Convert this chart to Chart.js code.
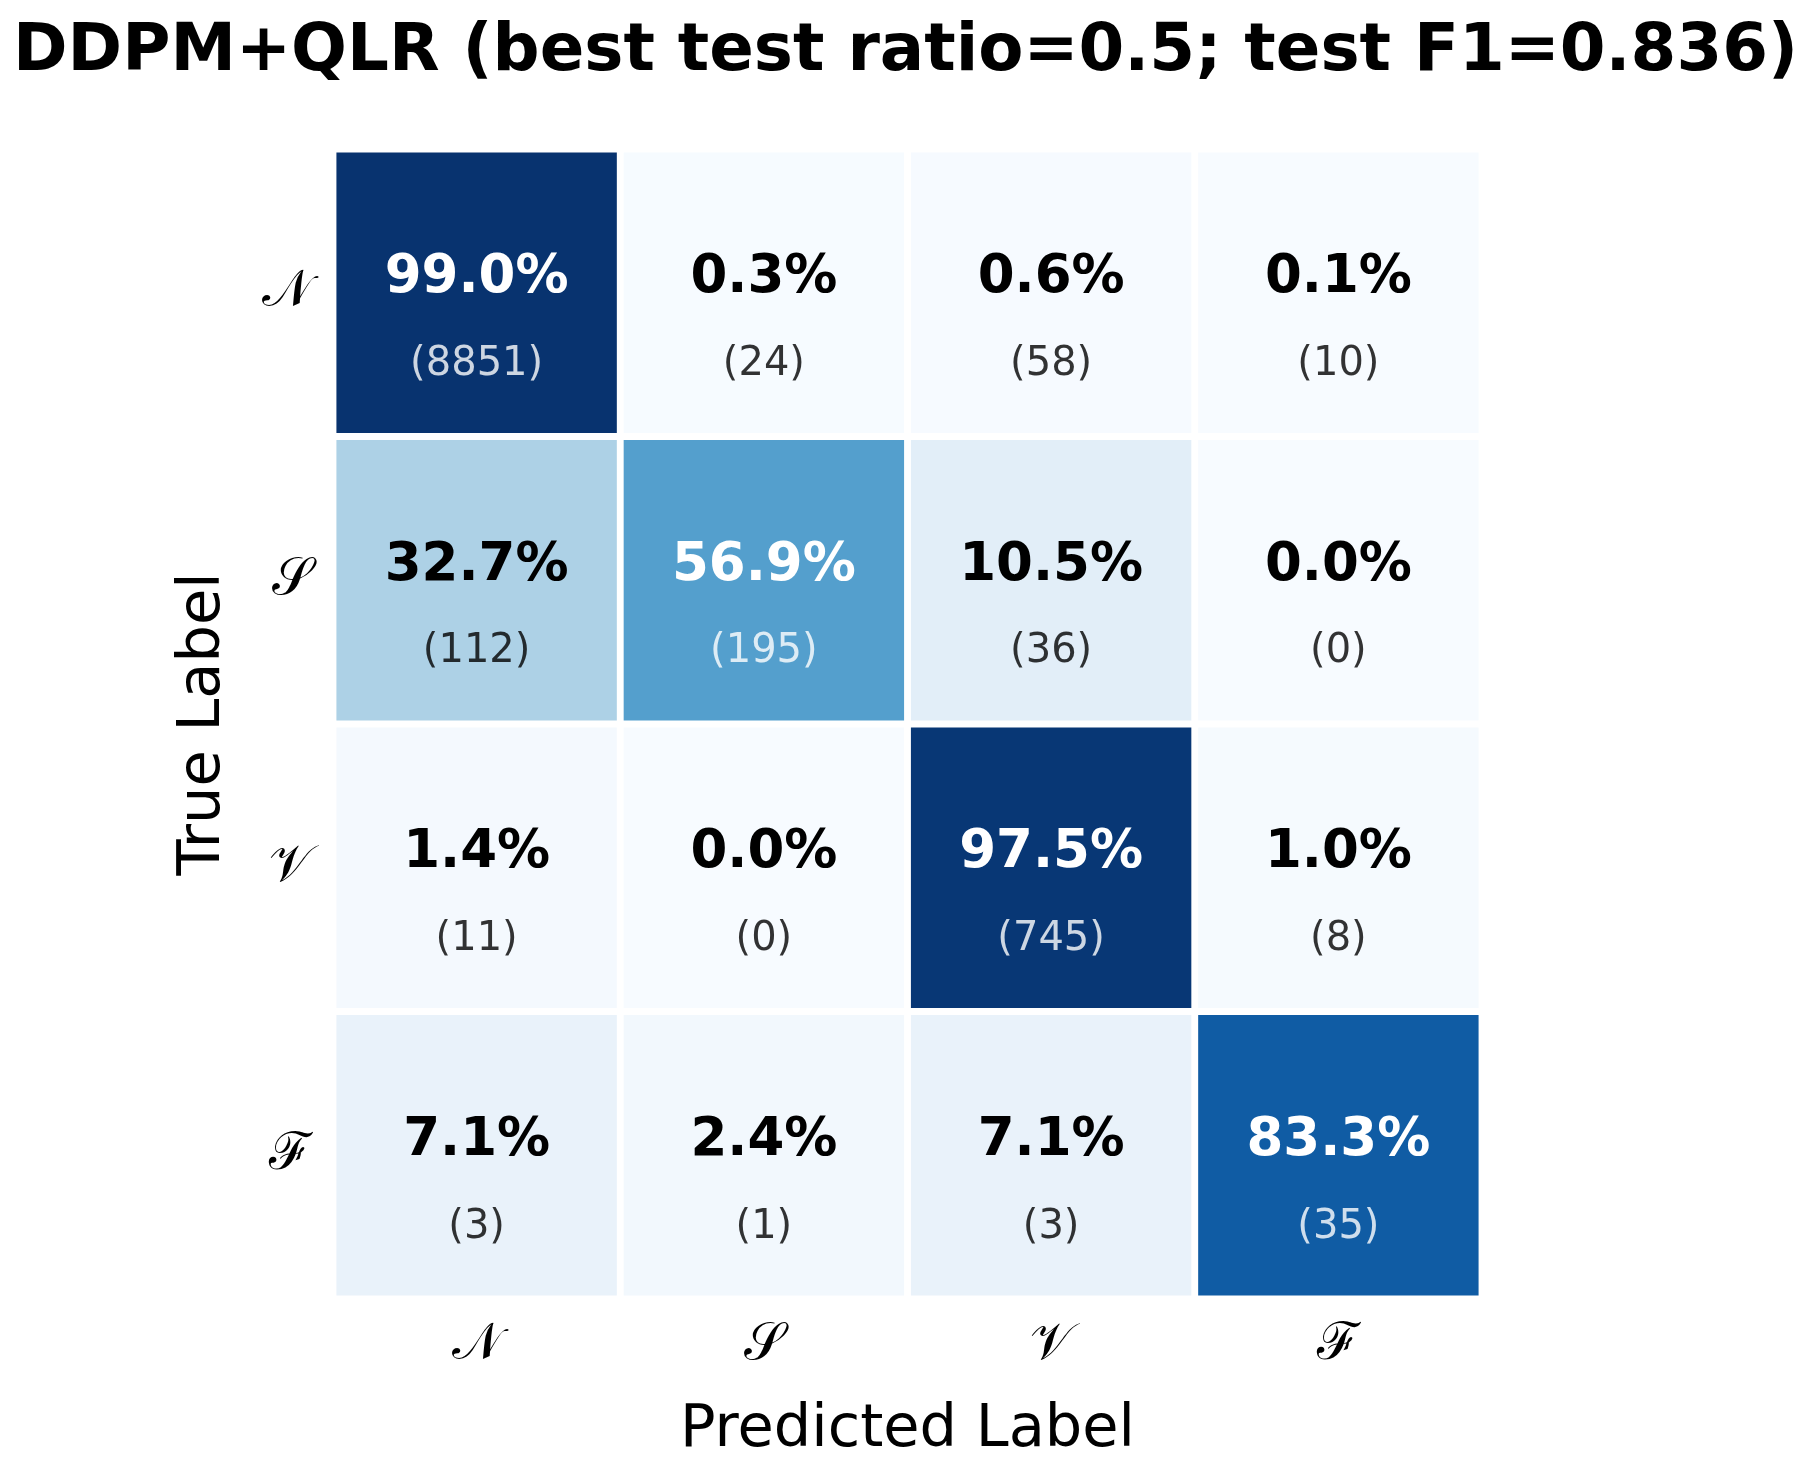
<!DOCTYPE html>
<html>
<head>
<meta charset="utf-8">
<script src="https://cdn.jsdelivr.net/npm/chart.js@4.4.1/dist/chart.umd.min.js"></script>
<style>
  html, body { margin: 0; padding: 0; background: #ffffff; }
  #wrap { width: 1811px; height: 1466px; }
</style>
</head>
<body>
<div id="wrap"><canvas id="c" width="1811" height="1466"></canvas></div>
<script>
// ---- data ----
const titleText = 'DDPM+QLR (best test ratio=0.5; test F1=0.836)';
const predictedLabels = ['\u{1D4A9}', '\u{1D4AE}', '\u{1D4B1}', '\u2131'];
const trueLabels = ['\u{1D4A9}', '\u{1D4AE}', '\u{1D4B1}', '\u2131'];
// rows = true label, columns = predicted label
const pctRowN = [99.0, 0.3, 0.6, 0.1];
const pctRowS = [32.7, 56.9, 10.5, 0.0];
const pctRowV = [1.4, 0.0, 97.5, 1.0];
const pctRowF = [7.1, 2.4, 7.1, 83.3];
const cntRowN = [8851, 24, 58, 10];
const cntRowS = [112, 195, 36, 0];
const cntRowV = [11, 0, 745, 8];
const cntRowF = [3, 1, 3, 35];
const pctRows = [pctRowN, pctRowS, pctRowV, pctRowF];
const cntRows = [cntRowN, cntRowS, cntRowV, cntRowF];

// ---- matplotlib "Blues" colormap ----
const bluesAnchors = ['#f7fbff','#deebf7','#c6dbef','#9ecae1','#6baed6','#4292c6','#2171b5','#08519c','#08306b'];
function hexToRgb(h){ return [parseInt(h.slice(1,3),16), parseInt(h.slice(3,5),16), parseInt(h.slice(5,7),16)]; }
function blues(t){
  t = Math.max(0, Math.min(1, t));
  const n = bluesAnchors.length - 1;
  const p = t * n; let i = Math.floor(p); if (i >= n) i = n - 1;
  const f = p - i;
  const a = hexToRgb(bluesAnchors[i]), b = hexToRgb(bluesAnchors[i+1]);
  const c = a.map((v,k) => Math.round(v + (b[k]-v)*f));
  return 'rgb(' + c.join(',') + ')';
}
const vmin = 0, vmax = 100;

const datasets = pctRows.map((row, r) => ({
  label: trueLabels[r],
  data: row.map(() => [r - 0.5, r + 0.5]),
  backgroundColor: row.map(v => blues((v - vmin) / (vmax - vmin))),
  borderColor: '#ffffff',
  borderWidth: 3.75,
  borderSkipped: false,
  barPercentage: 1,
  categoryPercentage: 1,
  grouped: false
}));

const cellText = {
  id: 'cellText',
  afterDatasetsDraw(chart) {
    const {ctx, scales: {x, y}} = chart;
    ctx.save();
    ctx.textAlign = 'center';
    ctx.textBaseline = 'middle';
    pctRows.forEach((row, r) => {
      row.forEach((v, c) => {
        const cx = x.getPixelForValue(c);
        const top = y.getPixelForValue(r - 0.5);
        const bot = y.getPixelForValue(r + 0.5);
        const h = bot - top;
        const dark = v > 50;
        ctx.fillStyle = dark ? '#ffffff' : '#000000';
        ctx.font = 'bold 53px "DejaVu Sans"';
        ctx.fillText(v.toFixed(1) + '%', cx, top + h * 0.45);
        ctx.fillStyle = dark ? 'rgba(255,255,255,0.8)' : 'rgba(0,0,0,0.8)';
        ctx.font = '40px "DejaVu Sans"';
        ctx.fillText('(' + cntRows[r][c] + ')', cx, top + h * 0.75);
      });
    });
    ctx.restore();
  }
};

new Chart(document.getElementById('c'), {
  type: 'bar',
  data: { labels: predictedLabels, datasets },
  options: {
    responsive: false,
    devicePixelRatio: 1,
    animation: false,
    events: [],
    layout: { padding: 0 },
    plugins: {
      legend: { display: false },
      tooltip: { enabled: false },
      title: {
        display: true,
        text: titleText,
        color: '#000000',
        font: { family: 'DejaVu Sans', size: 65.8, weight: 'bold', lineHeight: 1.2 },
        padding: { top: 13, bottom: 57 }
      }
    },
    scales: {
      x: {
        type: 'category',
        offset: true,
        grid: { display: false, drawTicks: false },
        border: { display: false },
        ticks: { color: '#000000', font: { family: 'DejaVu Serif', size: 52 }, padding: 15, maxRotation: 0 },
        title: { display: true, text: 'Predicted Label', color: '#000000',
                 font: { family: 'DejaVu Sans', size: 59, lineHeight: 1.2 }, padding: { top: 0, bottom: 0 } },
        afterFit(s) { s.height = 167; }
      },
      y: {
        type: 'linear',
        min: -0.5, max: 3.5,
        reverse: true,
        grid: { display: false, drawTicks: false },
        border: { display: false },
        afterBuildTicks(s) { s.ticks = [0,1,2,3].map(v => ({ value: v })); },
        ticks: { color: '#000000', font: { family: 'DejaVu Serif', size: 52 }, padding: 21,
                 callback: (v) => trueLabels[v] },
        title: { display: true, text: 'True Label', color: '#000000',
                 font: { family: 'DejaVu Sans', size: 59, lineHeight: 1.2 }, padding: { top: 168, bottom: 0 } },
        afterFit(s) { s.width = 333; }
      },
      yRight: {
        type: 'linear',
        position: 'right',
        display: true,
        grid: { display: false, drawTicks: false },
        border: { display: false },
        ticks: { display: false },
        afterFit(s) { s.width = 329; }
      }
    }
  },
  plugins: [cellText]
});
</script>
</body>
</html>
